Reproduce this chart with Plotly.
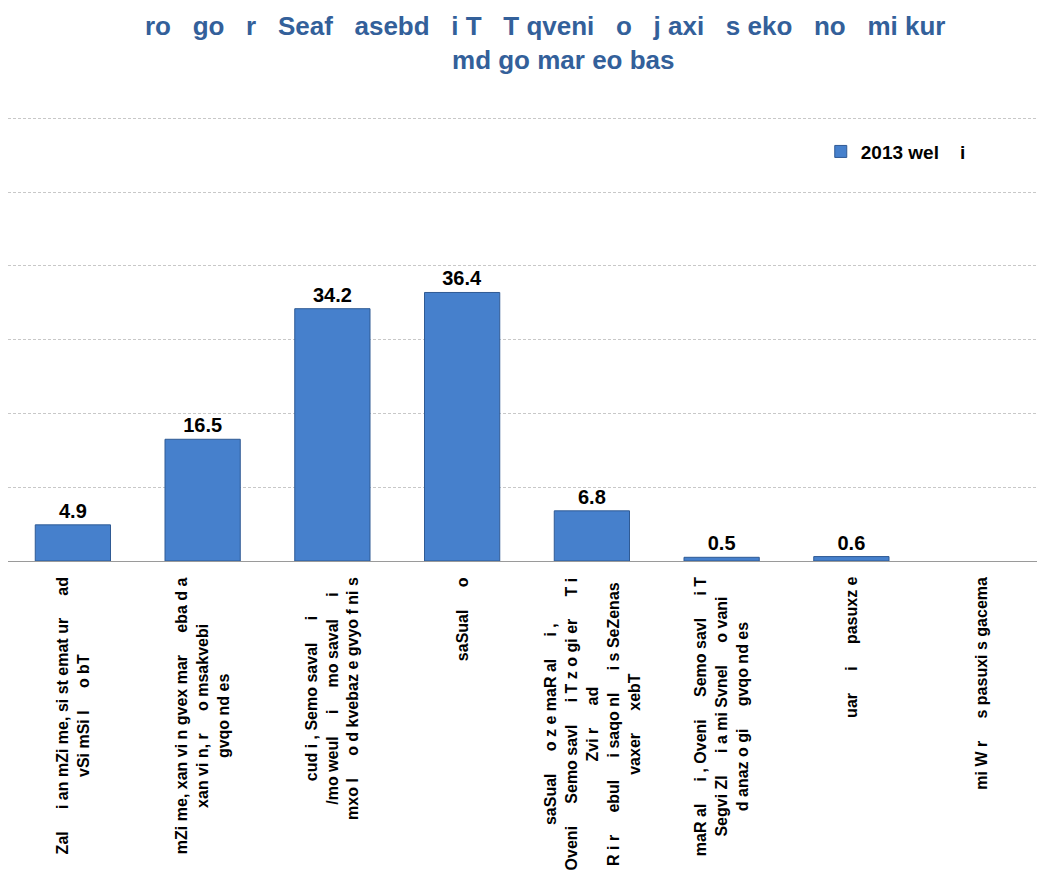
import plotly.graph_objects as go

NB = "\u00a0"

categories = [
    "Zal", "mZi", "cud", "saSual", "saSual o ze", "maRal", "uar", "miWr",
]
tick_labels = [
    "Zal  i an mZi me, si st emat ur  ad<br>vSi mSi l  o bT",
    "mZi me, xan vi n gvex mar  eba d a<br>xan vi n, r  o msakvebi<br>gvqo nd es",
    "cud i , Semo saval  i<br>/mo weul  i  mo saval  i<br>mxo l  o d kvebaz e gvyo f ni s",
    "saSual  o",
    "saSual  o z e maR al  i ,<br>Oveni  Semo savl  i T z o gi er  T i<br>Zvi r  ad<br>"
    "R i r  ebul  i saqo nl  i s SeZenas<br>vaxer  xebT",
    "maR al  i , Oveni  Semo savl  i T<br>Segvi Zl  i a mi Svnel  o vani<br>d anaz o gi  gvqo nd es",
    "uar  i  pasuxz e",
    "mi W r  s pasuxi s gacema",
]
values_2013 = [4.9, 16.5, 34.2, 36.4, 6.8, 0.5, 0.6, None]
series_name = "2013 wel  i"
title_line1 = "ro  go  r  Seaf  asebd  i T  T qveni  o  j axi  s eko  no  mi kur"
title_line2 = "md go mar eo bas"


def gaps(s, n=3):
    return s.replace("  ", NB * n)


fig = go.Figure()
fig.add_trace(go.Bar(
    x=categories,
    y=values_2013,
    name="<b>" + gaps(series_name, 4) + "</b>",
    marker=dict(color="#4680cc", line=dict(color="#2f5a94", width=1)),
    text=[None if v is None else f"<b>{v}</b>" for v in values_2013],
    textposition="outside",
    textfont=dict(family="Liberation Sans, Arial", size=20, color="#000000"),
    cliponaxis=False,
))

for cat, lab in zip(categories, tick_labels):
    fig.add_annotation(
        x=cat, y=0, xref="x", yref="paper",
        text="<b>" + gaps(lab, 5) + "</b>",
        textangle=-90, showarrow=False,
        xanchor="center", yanchor="top", align="center",
        yshift=-14,
        font=dict(family="Liberation Sans, Arial", size=16, color="#000000"),
    )

fig.add_annotation(
    x=0.517, y=1.226, xref="paper", yref="paper",
    text="<b>" + gaps(title_line1, 3) + "<br>" + NB * 5 + title_line2 + "</b>",
    showarrow=False, xanchor="center", yanchor="top", align="center",
    font=dict(family="Liberation Sans, Arial", size=26, color="#33609a"),
)

fig.update_layout(
    width=1045, height=887,
    paper_bgcolor="white", plot_bgcolor="white",
    margin=dict(l=0, r=7, t=103, b=334),
    bargap=0.42,
    showlegend=True,
    legend=dict(
        x=0.783, y=0.952, xanchor="left", yanchor="top",
        font=dict(family="Liberation Sans, Arial", size=19, color="#000000"),
        bgcolor="rgba(0,0,0,0)", itemwidth=30,
    ),
    xaxis=dict(
        showticklabels=False, showgrid=False, ticks="",
        showline=True, linecolor="#9a9a9a", linewidth=1,
    ),
    yaxis=dict(
        range=[0, 61], dtick=10, showticklabels=False, ticks="",
        showgrid=True, gridcolor="#c8c8c8", griddash="3px,2px", gridwidth=1,
        zeroline=False, showline=False,
    ),
)

fig.write_html("out.html")
